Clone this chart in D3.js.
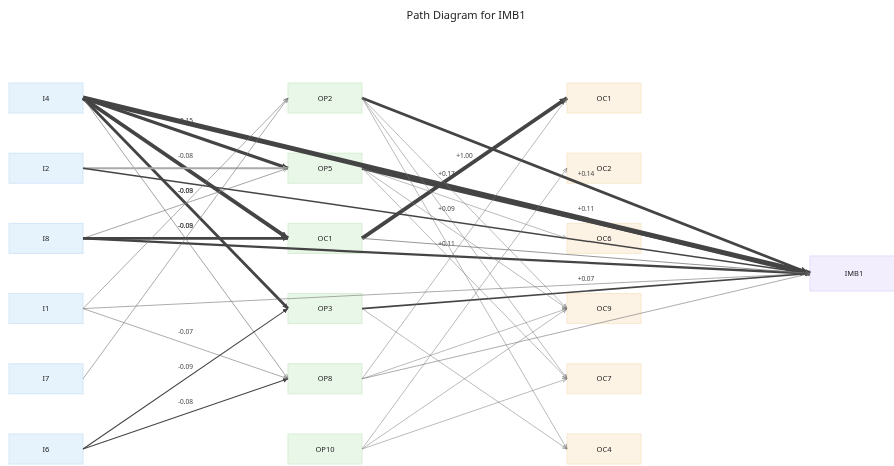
<!DOCTYPE html>
<html lang="en">
  <head>
    <meta charset="UTF-8" />
    <title>Path Diagram for IMB1</title>
    <script src="https://d3js.org/d3.v7.min.js"></script>
    <style>
      body {
        margin: 0;
        padding: 0;
        background: #ffffff;
        font-family: "Noto Sans", "Open Sans", sans-serif;
      }
      svg {
        will-change: transform;
      }
      .title {
        font-size: 11px;
        fill: #222;
      }
      .node-label {
        font-size: 7.5px;
        fill: #222;
      }
      .edge-label {
        font-size: 6.5px;
        fill: #444;
      }
    </style>
  </head>
  <body>
    <div id="chart"></div>

    <script>
      const width = 894;
      const height = 466;

      // node columns, top to bottom
      const inputs = ["I4", "I2", "I8", "I1", "I7", "I6"];
      const mediators = ["OP2", "OP5", "OC1", "OP3", "OP8", "OP10"];
      const outcomes = ["OC1", "OC2", "OC6", "OC9", "OC7", "OC4"];
      const target = "IMB1";

      // edges: [from, to, weight (line strength), coefficient or null]
      // ids are "column:name" because OC1 sits in two columns
      const edges = [
        ["1:I4", "2:OP5", 0.5, -0.15],
        ["1:I4", "2:OC1", 0.6, -0.08],
        ["1:I4", "2:OP3", 0.42, -0.08],
        ["1:I4", "2:OP8", 0.03, -0.09],
        ["1:I4", "4:IMB1", 0.8, 0.17],
        ["1:I2", "2:OP5", 0.3, null],
        ["1:I2", "4:IMB1", 0.18, 0.09],
        ["1:I8", "2:OP5", 0.03, -0.09],
        ["1:I8", "2:OC1", 0.4, -0.08],
        ["1:I8", "4:IMB1", 0.32, 0.11],
        ["1:I1", "2:OP2", 0.02, null],
        ["1:I1", "2:OP8", 0.02, -0.07],
        ["1:I1", "4:IMB1", 0.02, null],
        ["1:I7", "2:OP2", 0.02, null],
        ["1:I6", "2:OP3", 0.1, -0.09],
        ["1:I6", "2:OP8", 0.1, -0.08],
        ["2:OP2", "4:IMB1", 0.42, 0.14],
        ["2:OP5", "4:IMB1", 0.45, 0.11],
        ["2:OC1", "3:OC1", 0.6, 1.0],
        ["2:OC1", "4:IMB1", 0.05, null],
        ["2:OP3", "4:IMB1", 0.2, 0.07],
        ["2:OP8", "4:IMB1", 0.02, null],
        ["2:OP2", "3:OC9", 0.0, null],
        ["2:OP2", "3:OC7", 0.0, null],
        ["2:OP2", "3:OC4", 0.0, null],
        ["2:OP5", "3:OC6", 0.0, null],
        ["2:OP5", "3:OC9", 0.0, null],
        ["2:OP5", "3:OC7", 0.0, null],
        ["2:OP3", "3:OC4", 0.0, null],
        ["2:OP8", "3:OC1", 0.0, null],
        ["2:OP8", "3:OC9", 0.0, null],
        ["2:OP10", "3:OC2", 0.0, null],
        ["2:OP10", "3:OC9", 0.0, null],
        ["2:OP10", "3:OC7", 0.0, null],
      ];

      // the I2 -> OP5 line is drawn in a lighter grey
      const faintEdges = ["1:I2>2:OP5"];

      const boxW = 74;
      const boxH = 30;
      const targetW = 88;
      const targetH = 35;

      const xCol = d3.scaleLinear().domain([1, 3]).range([9, 567]);
      const yRow = d3.scalePoint().domain(d3.range(6)).range([98, 449]);

      const colFill = { 1: "#e6f2fc", 2: "#e9f7e8", 3: "#fdf3e4", 4: "#f3eefd" };
      const colStroke = { 1: "#d3e7f7", 2: "#d6efd3", 3: "#f8e8cf", 4: "#e6dcf9" };

      const nodes = [];
      [inputs, mediators, outcomes].forEach((names, ci) => {
        names.forEach((name, i) => {
          nodes.push({
            id: ci + 1 + ":" + name,
            name: name,
            col: ci + 1,
            x: xCol(ci + 1),
            y: yRow(i) - boxH / 2,
            w: boxW,
            h: boxH,
          });
        });
      });
      nodes.push({
        id: "4:" + target,
        name: target,
        col: 4,
        x: 810,
        y: (yRow(0) + yRow(5)) / 2 - targetH / 2,
        w: targetW,
        h: targetH,
      });
      const nodeById = new Map(nodes.map((n) => [n.id, n]));

      const strokeW = d3.scaleLinear().domain([0, 1]).range([0.5, 6]);
      const fmt = d3
        .formatLocale({
          decimal: ".",
          thousands: ",",
          grouping: [3],
          currency: ["", ""],
          minus: "-",
        })
        .format("+.2f");

      const links = edges.map((e, i) => {
        const s = nodeById.get(e[0]);
        const t = nodeById.get(e[1]);
        return {
          i: i,
          key: e[0] + ">" + e[1],
          x1: s.x + s.w,
          y1: s.y + s.h / 2,
          x2: t.x,
          y2: t.y + t.h / 2,
          width: strokeW(e[2]),
          label: e[3],
        };
      });

      const svg = d3
        .select("#chart")
        .append("svg")
        .attr("width", width)
        .attr("height", height);

      svg
        .append("text")
        .attr("class", "title")
        .attr("x", 466)
        .attr("y", 19)
        .attr("text-anchor", "middle")
        .text("Path Diagram for " + target);

      // boxes
      const g = svg
        .selectAll("g.node")
        .data(nodes)
        .enter()
        .append("g")
        .attr("class", "node")
        .attr("transform", (d) => `translate(${d.x},${d.y})`);
      g.append("rect")
        .attr("width", (d) => d.w)
        .attr("height", (d) => d.h)
        .attr("fill", (d) => colFill[d.col])
        .attr("stroke", (d) => colStroke[d.col])
        .attr("stroke-width", 1);
      g.append("text")
        .attr("class", "node-label")
        .attr("x", (d) => d.w / 2)
        .attr("y", (d) => d.h / 2 + 2.5)
        .attr("text-anchor", "middle")
        .text((d) => d.name);

      // one arrow marker per edge, sized from its stroke
      const defs = svg.append("defs");
      links.forEach((l) => {
        const faint = faintEdges.includes(l.key);
        const size = Math.max(5, l.width * 1.9);
        defs
          .append("marker")
          .attr("id", "arrow" + l.i)
          .attr("viewBox", "0 0 10 10")
          .attr("refX", 10)
          .attr("refY", 5)
          .attr("markerUnits", "userSpaceOnUse")
          .attr("markerWidth", size)
          .attr("markerHeight", size)
          .attr("orient", "auto")
          .append("path")
          .attr("d", l.width < 1 ? "M0,1 L10,5 L0,9" : "M0,0 L10,5 L0,10 z")
          .attr("fill", l.width < 1 ? "none" : faint ? "#aaa" : "#444")
          .attr("stroke", l.width < 1 ? "#777" : "none")
          .attr("stroke-width", 1.2);
      });

      svg
        .selectAll("line.edge")
        .data(links)
        .enter()
        .append("line")
        .attr("class", "edge")
        .attr("x1", (d) => d.x1)
        .attr("y1", (d) => d.y1)
        .attr("x2", (d) => d.x2)
        .attr("y2", (d) => d.y2)
        .attr("stroke", (d) =>
          faintEdges.includes(d.key) ? "#aaa" : d.width < 1 ? "#777" : "#444"
        )
        .attr("stroke-width", (d) => d.width)
        .attr("marker-end", (d) => `url(#arrow${d.i})`);

      svg
        .selectAll("text.edge-label")
        .data(links.filter((l) => l.label !== null))
        .enter()
        .append("text")
        .attr("class", "edge-label")
        .attr("x", (d) => (d.x1 + d.x2) / 2)
        .attr("y", (d) => (d.y1 + d.y2) / 2 - 10)
        .attr("text-anchor", "middle")
        .text((d) => fmt(d.label));
    </script>
  </body>
</html>
